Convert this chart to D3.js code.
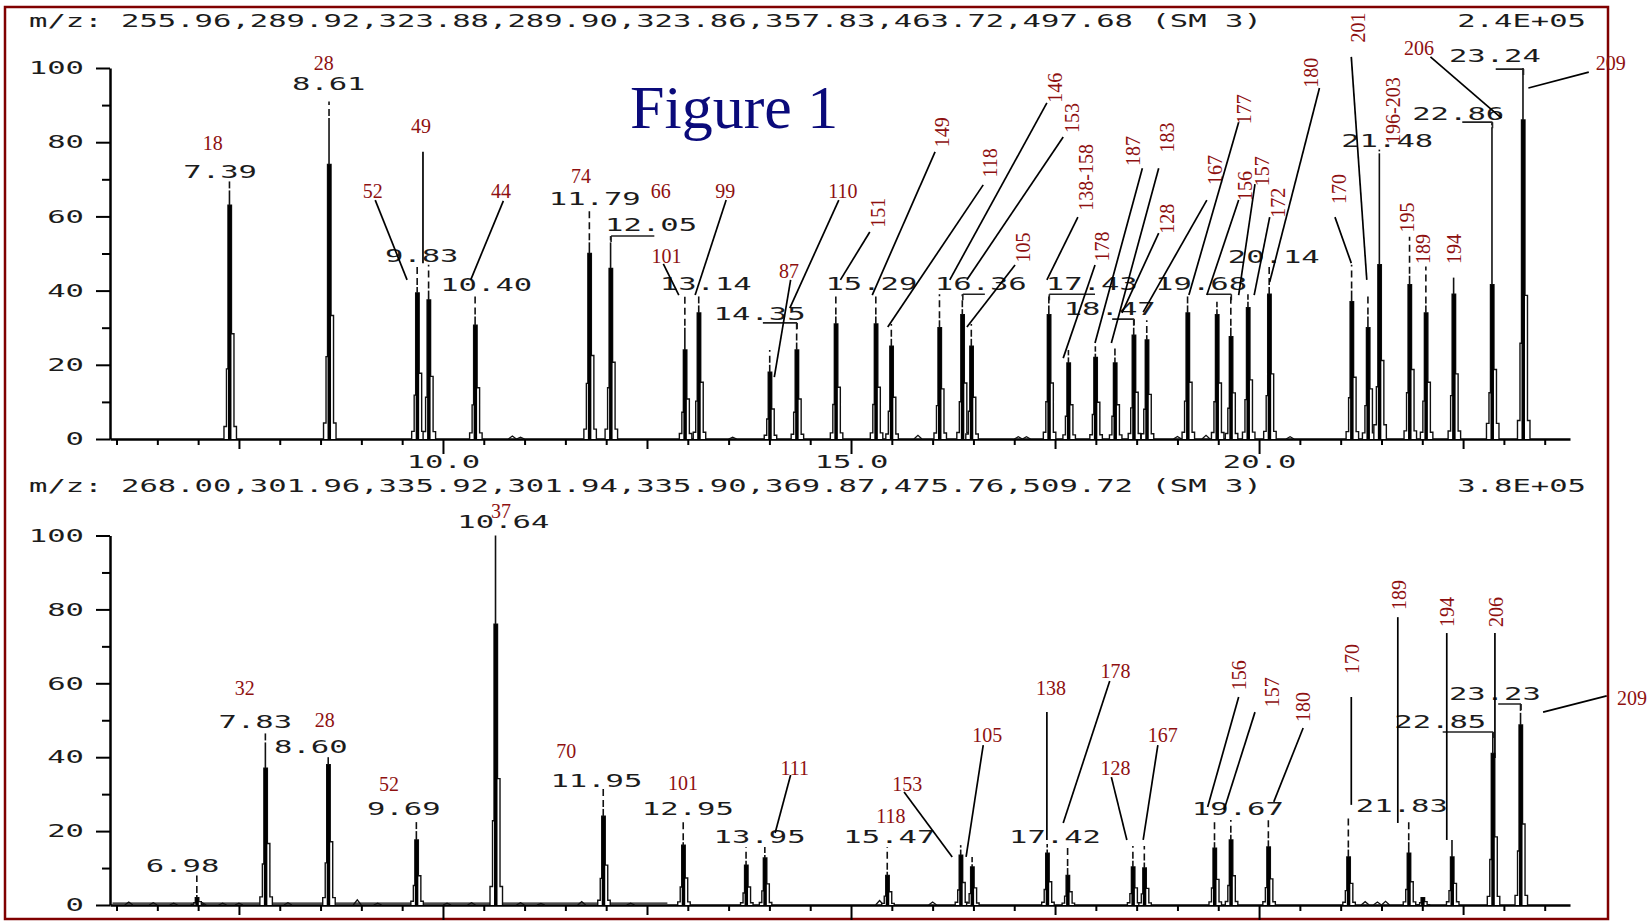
<!DOCTYPE html>
<html>
<head>
<meta charset="utf-8">
<script src="https://cdn.jsdelivr.net/npm/d3@7"></script>
<style>
  body { margin: 0; background: #fff; }
  svg { display: block; }
</style>
</head>
<body>
<svg id="chart"></svg>
<script>
// ---------- upper trace ----------
var topHeader = "m/z: 255.96,289.92,323.88,289.90,323.86,357.83,463.72,497.68 (SM 3)";
var topScale = "2.4E+05";

// [time, apex %, solid part %, marker top %]
var topPeaks = [
  [7.39, 67, 63, 70], [8.61, 86.5, 74, 91], [9.69, 41, 39.4, 47], [9.83, 40, 37.5, 47],
  [10.40, 33, 30.7, 39.5], [11.80, 53, 50, 62], [12.06, 53, 46, 54.7], [12.97, 30, 24, 39],
  [13.14, 36, 34, 39], [14.01, 20, 18, 24], [14.34, 26, 24, 31.3], [14.82, 33, 31, 39],
  [15.31, 33, 31, 39], [15.50, 27, 25, 31], [16.09, 32, 30, 39], [16.37, 35, 33.5, 39],
  [16.48, 27, 25, 31], [17.43, 36, 33.5, 39], [17.67, 22, 20.5, 24], [18.00, 23, 22, 25],
  [18.24, 22, 20.5, 25], [18.47, 30, 28, 32.3], [18.63, 28, 26.7, 32], [19.13, 36, 34, 39],
  [19.49, 35, 33.5, 37], [19.66, 30, 27.6, 39], [19.87, 37, 35.4, 39], [20.13, 41, 39, 46.5],
  [21.14, 40, 37, 47], [21.34, 33, 30, 39.5], [21.48, 77, 47, 78], [21.85, 44, 41.6, 54.5],
  [22.05, 36, 34, 46.5], [22.39, 43.5, 39, null], [22.86, 84, 41.6, 85.4], [23.24, 100, 86, 100]
];
var topNoise = [[10.85, 0.8], [10.95, 0.5], [13.55, 0.5], [15.82, 1], [17.05, 0.6], [17.15, 0.6],
  [19.0, 0.7], [19.35, 1], [20.38, 0.6]];

// [text, centre time, baseline %]
var topRtLabels = [
  ["7.39", 7.27, 70.3], ["8.61", 8.60, 94], ["9.83", 9.74, 47.6], ["10.40", 10.53, 39.9],
  ["11.79", 11.86, 63], ["12.05", 12.55, 56], ["13.14", 13.22, 40.2], ["14.35", 13.88, 32.1],
  ["15.29", 15.25, 40.2], ["16.36", 16.59, 40.2], ["17.43", 17.95, 40.2], ["18.47", 18.17, 33.4],
  ["19.68", 19.29, 40.2], ["20.14", 20.18, 47.4], ["21.48", 21.57, 78.7], ["22.86", 22.44, 86],
  ["23.24", 22.89, 101.6]
];
// [from time, to time, %, end that drops to the peak]
var topBrackets = [
  [12.06, 12.59, 54.7, "l"], [13.92, 14.34, 31.3, "r"], [16.37, 16.64, 39, "l"],
  [17.43, 17.99, 39, "l"], [18.20, 18.47, 32.3, "r"], [19.36, 19.66, 39, "r"],
  [22.49, 22.86, 85.4, "r"], [22.90, 23.24, 99.7, "r"]
];
// congener numbers: [text, time, %, leader from time, %, to time, %]
var topNames = [
  ["18", 7.18, 77.9], ["28", 8.54, 99.5], ["49", 9.73, 82.5, 9.755, 77.4, 9.755, 47.4],
  ["52", 9.14, 65, 9.17, 64.4, 9.56, 42.9], ["44", 10.71, 65, 10.74, 64.2, 10.34, 42.9],
  ["74", 11.69, 69], ["66", 12.67, 65], ["99", 13.46, 65, 13.47, 64.4, 13.09, 38.8],
  ["101", 12.74, 47.4, 12.70, 47.2, 12.89, 38.8], ["87", 14.24, 43.4, 14.26, 42.9, 14.06, 16.7],
  ["110", 14.90, 65, 14.85, 64.4, 14.25, 35.3], ["206", 21.96, 103.5, 22.10, 103, 22.97, 86.5],
  ["209", 24.31, 99.5, 24.04, 98.9, 23.30, 94.6]
];
var topRotNames = [
  ["151", 15.33, 61, 15.23, 55.8, 14.87, 42.9], ["149", 16.12, 82.7, 16.03, 77.4, 15.26, 38.8],
  ["118", 16.70, 74.4, 16.62, 68.5, 15.45, 30.2], ["146", 17.50, 94.7, 17.40, 90.6, 16.21, 42.9],
  ["153", 17.71, 86.5, 17.60, 81.4, 16.42, 42.9], ["105", 17.11, 51.6, 17.01, 46.9, 16.42, 30.2],
  ["138-158", 17.88, 70.5, 17.78, 59.8, 17.40, 42.9], ["178", 18.08, 51.9, 17.99, 46.9, 17.60, 21.8],
  ["187", 18.46, 77.6, 18.57, 73, 17.99, 25.9], ["183", 18.87, 81.3, 18.77, 73, 18.19, 25.9],
  ["128", 18.87, 59.4, 18.77, 55.5, 18.32, 34], ["167", 19.46, 72.5, 19.36, 64.4, 18.58, 34.2],
  ["177", 19.82, 88.9, 19.75, 85.4, 19.14, 38.8], ["156", 19.83, 68.2, 19.75, 64.4, 19.36, 38.8],
  ["157", 20.04, 72.2, 19.95, 68.7, 19.75, 38.8], ["172", 20.23, 63.7, 20.13, 59.8, 19.94, 38.8],
  ["180", 20.64, 98.7, 20.74, 94.6, 20.13, 42.3], ["201", 21.21, 110.9, 21.13, 103, 21.32, 42.9],
  ["196-203", 21.64, 88.5], ["170", 20.98, 67.4, 20.93, 59.8, 21.13, 47.4],
  ["195", 21.81, 59.7], ["189", 22.01, 51.2], ["194", 22.39, 51.2]
];

// ---------- lower trace ----------
var bottomHeader = "m/z: 268.00,301.96,335.92,301.94,335.90,369.87,475.76,509.72 (SM 3)";
var bottomScale = "3.8E+05";

var bottomPeaks = [
  [6.99, 2.7, 2, 8], [7.83, 44, 37, 47], [8.60, 40, 38, null], [9.68, 20, 17.6, 23.5],
  [10.65, 100, 76, null], [11.97, 26, 24, 31.6], [12.95, 17, 16.2, 23.5], [13.72, 12, 10.8, 15.7],
  [13.95, 13.5, 12.7, 15.7], [15.45, 9, 8, 15.7], [16.35, 15, 13.5, 16.2], [16.49, 11, 10.3, 13],
  [17.41, 15, 14, 16.5], [17.66, 10, 8, 15.4], [18.46, 12, 10.3, 16], [18.60, 11.5, 10, 16],
  [19.46, 17, 15.4, 23.5], [19.66, 19, 17.6, 23], [20.12, 17.5, 15.7, 23.5], [21.10, 15, 13, 24.4],
  [21.84, 17, 14, 23], [22.01, 2, 2, null], [22.37, 17.6, 13, null], [22.87, 46.8, 41, 46.8],
  [23.21, 52, 48.7, 54.4]
];
var bottomNoise = [[6.15, 0.8], [6.45, 0.6], [6.7, 0.5], [7.05, 0.6], [7.3, 0.5], [7.5, 0.5],
  [8.1, 0.6], [8.95, 1.4], [9.2, 0.5], [10.05, 0.5], [10.35, 0.6], [10.95, 0.6], [11.2, 0.4],
  [11.7, 0.9], [12.3, 0.5], [15.35, 1.2], [16.0, 0.8], [21.3, 0.9], [21.45, 0.8], [21.55, 1]];
var bottomBaseline = [5.95, 12.75, 0.5];

var bottomRtLabels = [
  ["6.98", 6.81, 8.9], ["7.83", 7.70, 47.9], ["8.60", 8.38, 41.1], ["9.69", 9.52, 24.4],
  ["10.64", 10.74, 102], ["11.95", 11.88, 31.9], ["12.95", 13.0, 24.4], ["13.95", 13.88, 16.8],
  ["15.47", 15.47, 16.8], ["17.42", 17.50, 16.8], ["19.67", 19.74, 24.4], ["21.83", 21.75, 25.2],
  ["22.85", 22.22, 47.9], ["23.23", 22.89, 55.5]
];
var bottomBrackets = [[22.25, 22.87, 46.8, "r"], [22.93, 23.21, 54.4, "r"]];
var bottomNames = [
  ["32", 7.57, 56.8], ["28", 8.55, 48.2], ["52", 9.34, 30.9], ["37", 10.71, 104.7],
  ["70", 11.51, 39.8], ["101", 12.94, 31.1], ["111", 14.31, 35.2, 14.26, 35.2, 14.07, 19.5],
  ["118", 15.49, 22.2], ["153", 15.69, 30.9, 15.65, 30.6, 16.24, 13],
  ["105", 16.67, 44.1, 16.62, 43.3, 16.41, 13], ["138", 17.45, 56.8, 17.40, 52.2, 17.40, 17.6],
  ["178", 18.24, 61.4, 18.17, 60.6, 17.60, 22.2], ["128", 18.24, 35.2, 18.19, 34.6, 18.38, 17.6],
  ["167", 18.82, 44.1, 18.76, 43.3, 18.58, 17.6], ["209", 24.57, 54.1, 24.26, 56.6, 23.48, 52.2]
];
var bottomRotNames = [
  ["156", 19.75, 62.2, 19.75, 56.3, 19.37, 26.5], ["157", 20.16, 57.6, 19.95, 52.2, 19.57, 25.7],
  ["180", 20.54, 53.6, 20.54, 47.9, 20.18, 27.9], ["170", 21.14, 66.6, 21.13, 56.3, 21.13, 27.1],
  ["189", 21.71, 83.9, 21.70, 77.9, 21.70, 22.2], ["194", 22.30, 79.3, 22.30, 73.6, 22.30, 17.6],
  ["206", 22.90, 79.3, 22.89, 73.6, 22.89, 39.8]
];

var xTicks = d3.range(6, 23.51, 0.5);
var yTicks = d3.range(0, 101, 10);

// ---------- drawing ----------
var svgWidth = 1652, svgHeight = 922;
var mono = "DejaVu Sans Mono", serif = "Liberation Serif, Times New Roman, serif";
var ink = "#1c1c1c", red = "#8e1010", pitch = 18.4;

var svg = d3.select("#chart")
    .attr("width", svgWidth)
    .attr("height", svgHeight);

svg.append("rect")
    .attr("x", 5).attr("y", 7)
    .attr("width", 1603).attr("height", 912)
    .attr("fill", "none")
    .attr("stroke", "#800000")
    .attr("stroke-width", 2.5);

var x = d3.scaleLinear().domain([5.92, 23.81]).range([110, 1570]);

function monoText(g, str, px, py, anchor) {
    return g.append("text")
        .attr("x", px).attr("y", py)
        .attr("text-anchor", anchor || "middle")
        .attr("font-family", mono)
        .attr("font-size", 18)
        .attr("fill", ink)
        .attr("textLength", str.length * pitch)
        .attr("lengthAdjust", "spacingAndGlyphs")
        .text(str);
}

function drawPeak(g, y, p) {
    var cx = x(p[0]), y0 = y(0), yh = y(p[1]), yc = y(p[2]);
    var y05 = y(p[1] * 0.05), y30 = y(p[2] * 0.3), y45 = y(p[2] * 0.45);
    var d = "M" + (cx - 6) + "," + y0 + "V" + y05 + "H" + (cx - 3.5) + "V" + y30 +
        "H" + (cx - 2) + "V" + yc + "H" + (cx + 1.5) + "V" + y45 + "H" + (cx + 4) +
        "V" + y05 + "H" + (cx + 6.5) + "V" + y0;
    g.append("path").attr("d", d)
        .attr("fill", "#fff").attr("stroke", "#111").attr("stroke-width", 1.4);
    g.append("rect")
        .attr("x", cx - 2).attr("y", yc)
        .attr("width", 3.5).attr("height", y0 - yc)
        .attr("fill", "#000");
    g.append("line")
        .attr("x1", cx - 0.5).attr("x2", cx - 0.5)
        .attr("y1", yc).attr("y2", yh)
        .attr("stroke", "#111").attr("stroke-width", 1.6);
    if (p[3] != null && p[3] > p[1]) {
        g.append("line")
            .attr("x1", cx - 0.5).attr("x2", cx - 0.5)
            .attr("y1", yh - 2).attr("y2", y(p[3]))
            .attr("stroke", "#111").attr("stroke-width", 1.6)
            .attr("stroke-dasharray", "7,4");
    }
}

function leader(g, y, n) {
    if (n.length < 7) return;
    g.append("line")
        .attr("x1", x(n[3])).attr("y1", y(n[4]))
        .attr("x2", x(n[5])).attr("y2", y(n[6]))
        .attr("stroke", "#000").attr("stroke-width", 1.7);
}

function drawPanel(cfg) {
    var y = d3.scaleLinear().domain([0, 100]).range(cfg.yRange);
    var g = svg.append("g");

    monoText(g, cfg.header, 29, cfg.headerY, "start");
    monoText(g, cfg.scale, 1586, cfg.headerY, "end");

    // y axis
    var yAxis = g.append("g")
        .attr("transform", "translate(110,0)")
        .call(d3.axisLeft(y).tickValues(yTicks).tickSizeOuter(0).tickPadding(20)
            .tickFormat(function(d) { return d % 20 === 0 ? d : ""; }));
    yAxis.selectAll(".tick line")
        .attr("x2", function(d) { return d % 20 === 0 ? -14 : -8; })
        .attr("stroke-width", 2);
    yAxis.select(".domain").attr("stroke-width", 2.5);
    yAxis.selectAll(".tick text")
        .attr("font-family", mono).attr("font-size", 18).attr("fill", ink)
        .attr("textLength", function(d) { return String(d).length * pitch; })
        .attr("lengthAdjust", "spacingAndGlyphs");

    // x axis
    var xAxis = g.append("g")
        .attr("transform", "translate(0," + y(0) + ")")
        .call(d3.axisBottom(x).tickValues(xTicks).tickSizeOuter(0).tickPadding(10)
            .tickFormat(function(d) { return cfg.xLabels && d % 5 === 0 ? d.toFixed(1) : ""; }));
    xAxis.selectAll(".tick line")
        .attr("y2", function(d) { return d % 5 === 0 ? 15 : (d % 2.5 === 0 ? 10 : 6); })
        .attr("stroke-width", 2);
    xAxis.select(".domain").attr("stroke-width", 2.5);
    xAxis.selectAll(".tick text")
        .attr("font-family", mono).attr("font-size", 18).attr("fill", ink)
        .attr("textLength", 4 * pitch)
        .attr("lengthAdjust", "spacingAndGlyphs");

    if (cfg.baseline) {
        g.append("line")
            .attr("x1", x(cfg.baseline[0])).attr("x2", x(cfg.baseline[1]))
            .attr("y1", y(cfg.baseline[2])).attr("y2", y(cfg.baseline[2]))
            .attr("stroke", "#111").attr("stroke-width", 1.3);
    }

    cfg.noise.forEach(function(n) {
        g.append("path")
            .attr("d", "M" + (x(n[0]) - 4) + "," + y(0) + "L" + x(n[0]) + "," + y(n[1]) +
                "L" + (x(n[0]) + 4) + "," + y(0))
            .attr("fill", "none").attr("stroke", "#111").attr("stroke-width", 1.3);
    });

    cfg.peaks.forEach(function(p) { drawPeak(g, y, p); });

    cfg.brackets.forEach(function(b) {
        var xe = b[3] === "l" ? x(b[0]) : x(b[1]);
        g.append("path")
            .attr("d", "M" + x(b[0]) + "," + y(b[2]) + "H" + x(b[1]) +
                "M" + xe + "," + y(b[2]) + "V" + (y(b[2]) + 6))
            .attr("fill", "none").attr("stroke", "#222").attr("stroke-width", 1.6);
    });

    cfg.rtLabels.forEach(function(l) {
        monoText(g, l[0], x(l[1]), y(l[2]));
    });

    cfg.names.forEach(function(n) {
        leader(g, y, n);
        g.append("text")
            .attr("x", x(n[1])).attr("y", y(n[2]))
            .attr("text-anchor", "middle")
            .attr("font-family", serif).attr("font-size", 20)
            .attr("fill", red)
            .text(n[0]);
    });

    cfg.rotNames.forEach(function(n) {
        leader(g, y, n);
        g.append("text")
            .attr("transform", "translate(" + x(n[1]) + "," + y(n[2]) + ") rotate(-90)")
            .attr("text-anchor", "middle")
            .attr("dominant-baseline", "central")
            .attr("font-family", serif).attr("font-size", 20)
            .attr("fill", red)
            .text(n[0]);
    });
}

drawPanel({
    yRange: [439, 68], headerY: 27, header: topHeader, scale: topScale, xLabels: true,
    peaks: topPeaks, noise: topNoise, rtLabels: topRtLabels, brackets: topBrackets,
    names: topNames, rotNames: topRotNames
});

drawPanel({
    yRange: [905, 535.5], headerY: 492, header: bottomHeader, scale: bottomScale, xLabels: false,
    peaks: bottomPeaks, noise: bottomNoise, baseline: bottomBaseline, rtLabels: bottomRtLabels,
    brackets: bottomBrackets, names: bottomNames, rotNames: bottomRotNames
});

svg.append("text")
    .attr("x", 630).attr("y", 128)
    .attr("font-family", serif)
    .attr("font-size", 62)
    .attr("fill", "#0a0a7a")
    .text("Figure 1");
</script>
</body>
</html>
